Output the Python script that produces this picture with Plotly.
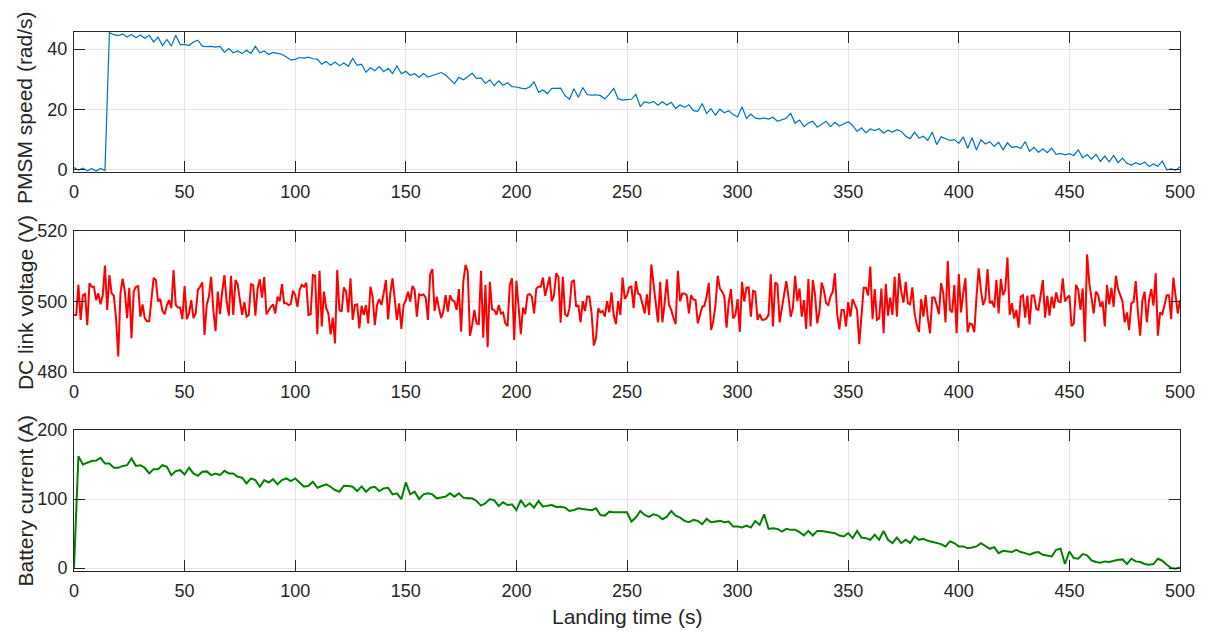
import plotly.graph_objects as go

# ---------------- data ----------------
time_1s = list(range(0, 501))
time_2s = list(range(0, 501, 2))

speed = [
    0.6, -0.3, 0.4, -0.5, 0.2, -0.6, 0.3, -0.4,
    45.5,
    44.8, 44.5, 45.0, 44.0, 44.9, 43.8, 44.7,
    43.6, 44.6, 42.4, 44.0, 41.2, 43.2, 41.0, 44.6, 41.5,
    41.6, 41.2, 42.4, 43.0, 41.0,
    40.8, 40.9, 40.7, 40.9, 39.0,
    40.2, 38.8, 39.4, 38.5, 39.6,
    38.6, 40.9, 38.8, 39.4, 38.2,
    38.9, 38.6, 38.3, 37.4, 36.4,
    36.6, 37.2, 37.0, 37.3, 36.8,
    36.7, 35.0, 35.9, 34.6, 35.7,
    34.5, 35.4, 34.3, 36.9, 34.6,
    35.0, 32.3, 33.8, 32.8, 34.2,
    32.5, 33.6, 31.9, 34.4, 31.8,
    32.6, 31.3, 31.8, 30.6, 31.9,
    30.7, 31.2, 31.6, 32.2, 31.4,
    30.0, 28.5, 30.6, 29.8, 30.8,
    32.0, 30.2, 30.4, 28.6, 29.8,
    27.8, 29.4, 28.0, 28.8, 27.5,
    27.4, 27.0, 26.8, 27.4, 29.1,
    25.6, 26.4, 25.2, 26.9, 26.9,
    27.0, 24.5, 23.3, 26.8, 24.0,
    27.2, 24.9, 24.7, 24.8, 24.5,
    23.4, 25.0, 26.9, 23.5, 23.0,
    23.2, 23.3, 24.9, 20.9, 22.5,
    22.0, 22.6, 21.3, 22.5, 21.4,
    22.3, 20.3, 21.4, 20.6, 21.5,
    19.5, 19.3, 21.9, 18.6, 20.2,
    18.0, 20.0, 18.8, 19.5, 18.2,
    17.4, 20.8, 16.9, 18.4, 17.0,
    16.8, 17.1, 16.7, 17.3, 16.0,
    16.5, 17.0, 18.6, 15.3, 16.4,
    14.2, 15.4, 16.0, 14.0, 15.0,
    16.0, 14.2, 15.6, 14.4, 15.2,
    15.8, 14.6, 12.6, 13.8, 12.2,
    13.4, 12.9, 13.5, 12.0, 13.0,
    12.4, 13.2, 12.6, 11.0, 10.2,
    12.3, 10.4, 11.0, 9.6, 12.4,
    8.2, 10.8, 10.2, 9.6, 9.9,
    8.6, 10.8, 7.0, 10.5, 6.4,
    9.8, 8.4, 9.2, 7.6, 9.0,
    6.5, 8.8, 7.2, 7.6, 6.9,
    9.2, 6.0, 7.3, 5.6, 6.8,
    5.5, 7.0, 5.0, 5.3, 4.8,
    5.2, 4.6, 6.5, 3.8, 4.9,
    3.4, 5.0, 2.6, 4.4, 2.5,
    4.6, 2.2, 3.7, 2.0, 1.4,
    2.2, 1.6, 2.4, 0.9, 1.8,
    1.0, 2.7, -0.2, 0.1, -0.3,
    0.8,
]

voltage = [
    496.2, 496.2, 504.7, 494.8, 501.8, 502.1, 493.3, 505.2, 504.2, 504.2,
    500.4, 502.3, 499.2, 501.8, 510.2, 497.6, 507.5, 502.3, 501.7, 495.3,
    484.4, 502.3, 506.5, 502.8, 495.3, 503.9, 489.6, 502.8, 504.2, 504.4,
    495.7, 499.2, 495.3, 494.4, 494.4, 501.4, 506.7, 506.1, 500.0, 500.7,
    497.3, 496.4, 499.0, 500.4, 498.1, 508.9, 499.0, 498.3, 498.3, 495.0,
    504.4, 495.0, 496.6, 500.4, 495.3, 496.6, 503.3, 504.2, 505.4, 490.5,
    499.0, 501.4, 507.0, 497.6, 491.6, 502.8, 496.4, 502.8, 507.5, 500.0,
    496.0, 507.3, 496.2, 506.1, 504.9, 500.4, 496.2, 499.8, 495.7, 496.2,
    504.9, 504.7, 496.0, 503.7, 506.3, 501.1, 506.9, 496.4, 497.6, 498.5,
    499.2, 496.6, 501.4, 500.1, 504.9, 499.5, 499.5, 499.0, 499.3, 503.1,
    501.8, 498.5, 503.3, 504.7, 504.2, 505.3, 496.2, 496.4, 507.5, 507.3,
    490.7, 508.7, 492.9, 502.8, 498.1, 496.6, 490.7, 495.4, 488.1, 508.9,
    497.6, 497.1, 504.0, 502.8, 496.9, 506.6, 494.8, 499.0, 499.2, 492.4,
    498.8, 496.2, 499.0, 493.8, 504.2, 501.4, 493.3, 499.0, 500.7, 499.0,
    502.3, 506.1, 494.9, 502.3, 506.6, 501.4, 494.8, 499.5, 492.2, 499.0,
    500.4, 502.8, 500.0, 504.4, 503.3, 495.7, 502.0, 501.8, 502.0, 501.1,
    494.8, 507.7, 509.2, 497.3, 501.4, 498.1, 495.3, 497.3, 501.8,
    497.1, 501.7, 500.4, 500.0, 497.6, 503.5, 491.4, 505.6, 510.4, 508.5,
    490.3, 493.3, 497.6, 493.8, 493.6, 508.7, 489.7, 504.7, 487.0, 505.6,
    497.8, 497.6, 496.2, 499.0, 496.6, 496.9, 493.8, 493.0, 504.7, 506.6,
    489.1, 505.9, 498.5, 490.7, 498.3, 496.4, 501.8, 502.1, 501.4, 496.6,
    503.7, 504.2, 504.2, 506.8, 501.6, 504.2, 507.0, 500.1, 501.8, 508.0,
    507.0, 494.0, 507.0, 496.4, 495.7, 498.1, 505.6, 506.1, 498.5, 499.0,
    494.1, 500.1, 497.3, 501.4, 501.4, 496.6, 487.5, 489.6, 498.1, 496.9,
    497.3, 495.7, 500.1, 496.9, 502.6, 496.0, 493.6, 500.1, 496.2, 506.8,
    500.7, 501.8, 504.0, 504.2, 498.1, 505.8, 502.3, 501.8, 499.0, 496.6,
    502.0, 496.2, 510.5, 504.5, 499.0, 494.1, 505.6, 494.1, 499.5, 506.3,
    499.0, 497.6, 495.4, 493.6, 508.7, 500.1, 502.3, 502.3, 501.8, 496.6,
    501.8, 500.6, 500.4, 493.8, 496.2, 498.5, 498.8, 501.4, 505.3, 491.9,
    494.3, 499.0, 507.3, 503.7, 502.8, 501.4, 492.6, 499.8, 503.5, 495.2,
    496.2, 500.7, 491.4, 505.6, 500.0, 503.9, 504.0, 495.7, 503.0, 502.8,
    494.8, 496.4, 494.8, 494.8, 495.2, 496.2, 507.7, 492.9, 505.4, 504.9,
    494.1, 498.5, 502.3, 505.8, 501.4, 495.7, 498.1, 507.3, 500.1, 503.7,
    495.7, 500.4, 492.2, 506.4, 492.9, 506.1, 502.0, 493.8, 497.1,
    505.4, 503.3, 499.5, 499.0, 501.4, 502.8, 508.0, 496.6, 492.1, 497.6,
    497.6, 492.9, 499.8, 495.7, 500.7, 499.2, 497.6, 487.9, 497.1, 503.9,
    503.9, 501.7, 509.9, 495.0, 503.5, 494.8, 495.2, 503.7, 491.0, 505.0,
    496.0, 501.1, 496.2, 507.0, 495.7, 508.0, 502.8, 499.7, 505.6, 499.5,
    499.2, 504.0, 496.6, 493.3, 491.4, 500.7, 495.7, 501.8, 495.2, 491.0,
    501.1, 501.1, 499.0, 496.4, 505.2, 502.3, 494.1, 511.5, 497.6, 496.9,
    504.7, 491.0, 507.8, 496.9, 502.3, 506.6, 491.3, 493.8, 493.5, 491.3,
    501.4, 509.4, 503.3, 499.0, 500.7, 509.2, 499.5, 500.0, 498.3, 506.1,
    496.6, 506.4, 501.8, 503.3, 512.5, 496.2, 499.5, 495.2, 497.6, 492.6,
    501.4, 501.8, 495.4, 501.7, 493.5, 501.7, 501.7, 497.9, 497.6, 501.8,
    506.1, 495.4, 501.6, 496.0, 501.4, 498.1, 502.6, 500.0, 499.8, 506.6,
    500.0, 501.1, 501.7, 493.0, 493.8, 504.7, 503.3, 497.6, 503.7, 488.6,
    513.4, 505.2, 500.9, 496.6, 502.8, 501.8, 498.5, 500.0, 492.9, 504.7,
    499.2, 503.9, 498.5, 507.3, 503.5, 501.8, 500.0, 494.1, 496.9, 491.9,
    499.5, 499.8, 505.8, 496.9, 490.3, 500.4, 502.8, 494.1, 500.4, 503.5,
    498.8, 508.0, 490.3, 496.9, 496.4, 499.0, 501.8, 501.8, 495.0, 506.8,
    502.3, 496.6, 500.4,
]

current = [
    0.5, 162.0, 150.0, 153.0, 155.0, 155.8, 159.6, 151.4, 151.4, 145.2,
    145.2, 148.0, 149.0, 158.7, 148.0, 149.0, 145.2, 137.0, 143.3, 143.3,
    149.0, 146.6, 134.6, 140.4, 141.8, 135.6, 145.2, 137.0, 133.7, 139.4,
    140.0, 134.6, 137.0, 134.6, 140.9, 137.0, 137.0, 132.2, 130.8, 122.6,
    129.8, 127.4, 117.8, 127.4, 124.0, 128.8, 121.2, 127.4, 129.8, 126.0,
    129.8, 124.0, 117.8, 119.2, 125.0, 116.3, 118.8, 121.2, 117.8, 113.0,
    110.6, 119.2, 118.8, 117.8, 111.5, 118.3, 110.6, 116.3, 117.8, 111.5,
    115.4, 116.3, 106.7, 108.2, 100.0, 124.0, 106.7, 110.6, 100.0, 106.7,
    108.2, 106.7, 101.0, 102.0, 103.4,
    108.2, 103.4, 108.2, 102.0, 101.0, 101.0, 97.1, 90.4, 93.8, 100.0,
    98.0, 89.9, 95.2, 91.3, 92.3, 84.0, 98.6, 88.9, 93.8, 87.5,
    97.1, 88.9, 90.4, 91.3, 88.5, 88.9, 87.5, 82.7, 84.1, 86.5,
    85.6, 84.6, 83.7, 86.5, 76.9, 76.0, 81.7, 80.8, 80.8, 80.8,
    80.8, 67.3, 73.1, 82.7, 76.9, 74.0, 77.9, 76.0, 70.7, 74.5,
    82.7, 76.0, 73.1, 68.3, 66.3, 69.7, 68.3, 63.5, 71.2, 66.3,
    67.8, 68.3, 66.3, 67.3, 60.1, 60.1, 58.7, 61.5, 58.7, 68.3,
    62.5, 77.9, 56.7, 57.7, 56.7, 52.9, 56.7, 55.3, 55.3, 51.9,
    47.1, 53.8, 47.1, 53.8,
    53.8, 52.9, 51.9, 50.5, 47.1, 45.7, 50.5, 43.3, 53.8, 44.2,
    43.3, 40.9, 48.1, 40.9, 53.8, 40.9, 36.1, 44.2, 36.1, 40.9,
    36.1, 45.7, 40.9, 42.3, 39.4, 37.5, 36.1, 34.6, 31.3, 38.5,
    36.1, 31.3, 31.3, 28.8, 29.8, 31.3, 36.1, 32.2, 27.9, 30.3,
    21.6, 25.0, 24.0, 23.1, 26.4, 23.1, 21.6, 19.2, 22.1, 23.1,
    19.2, 18.3, 16.8, 26.4, 27.9, 5.8, 24.0, 14.4, 13.5, 20.2,
    18.3, 11.1, 8.7, 7.7, 9.6, 8.7, 10.6, 12.0, 12.5, 5.8,
    13.5, 9.6, 8.7, 5.8, 4.8, 5.8, 13.5, 10.6, 4.8, 0.0,
    -1.0, 1.0,
]

x_ticks = list(range(0, 501, 50))
speed_ticks = [0, 20, 40]
voltage_ticks = [480, 500, 520]
current_ticks = [0, 100, 200]

y_titles = ["PMSM speed (rad/s)", "DC link voltage (V)", "Battery current (A)"]
x_title = "Landing time (s)"

# ---------------- figure ----------------
FONT = "Arial, 'Liberation Sans', Helvetica, sans-serif"
INK = "#262626"
GRID = "#e4e4e4"

fig = go.Figure()
fig.add_trace(go.Scatter(x=time_2s, y=speed, mode="lines",
                         line=dict(color="#0072BD", width=1.2),
                         xaxis="x", yaxis="y", showlegend=False))
fig.add_trace(go.Scatter(x=time_1s, y=voltage, mode="lines",
                         line=dict(color="#FF0000", width=2),
                         xaxis="x2", yaxis="y2", showlegend=False))
fig.add_trace(go.Scatter(x=time_2s, y=current, mode="lines",
                         line=dict(color="#008000", width=2),
                         xaxis="x3", yaxis="y3", showlegend=False))


def axis_style(**kw):
    d = dict(showline=True, linecolor=INK, linewidth=1, mirror="ticks",
             ticks="inside", ticklen=11, tickwidth=1, tickcolor=INK,
             showgrid=True, gridcolor=GRID, gridwidth=1, zeroline=False,
             tickfont=dict(family=FONT, size=18, color=INK))
    d.update(kw)
    return d


domains = [[0.7403, 1.0], [0.3692, 0.6308], [0.0, 0.2616]]
title_y = [0.859, 0.497, 0.1308]

# the page body adds an 8 px margin, so the figure is sized to fit the window
fig.update_layout(
    width=1201, height=629,
    margin=dict(l=66, r=29, t=24, b=66),
    paper_bgcolor="white", plot_bgcolor="white",
    font=dict(family=FONT, color=INK),
    xaxis=axis_style(domain=[0, 1], range=[0, 500], tickvals=x_ticks,
                     anchor="y", ticklabelstandoff=3),
    yaxis=axis_style(domain=domains[0], range=[-0.9, 45.7], tickvals=speed_ticks,
                     anchor="x", ticklabelstandoff=2),
    xaxis2=axis_style(domain=[0, 1], range=[0, 500], tickvals=x_ticks,
                      anchor="y2", ticklabelstandoff=3),
    yaxis2=axis_style(domain=domains[1], range=[480, 520], tickvals=voltage_ticks,
                      anchor="x2", ticklabelstandoff=2),
    xaxis3=axis_style(domain=[0, 1], range=[0, 500], tickvals=x_ticks,
                      anchor="y3", ticklabelstandoff=3),
    yaxis3=axis_style(domain=domains[2], range=[-4.3, 200], tickvals=current_ticks,
                      anchor="x3", ticklabelstandoff=2),
)

annotations = []
for title, ty in zip(y_titles, title_y):
    annotations.append(dict(text=title, xref="paper", yref="paper",
                            x=-0.0443, y=ty,
                            xanchor="center", yanchor="middle", textangle=-90,
                            showarrow=False, font=dict(family=FONT, size=21, color=INK)))
annotations.append(dict(text=x_title, xref="paper", yref="paper",
                        x=0.5, y=-0.0853, xanchor="center", yanchor="middle",
                        showarrow=False, font=dict(family=FONT, size=21, color=INK)))
fig.update_layout(annotations=annotations)

fig.write_html("out.html")
